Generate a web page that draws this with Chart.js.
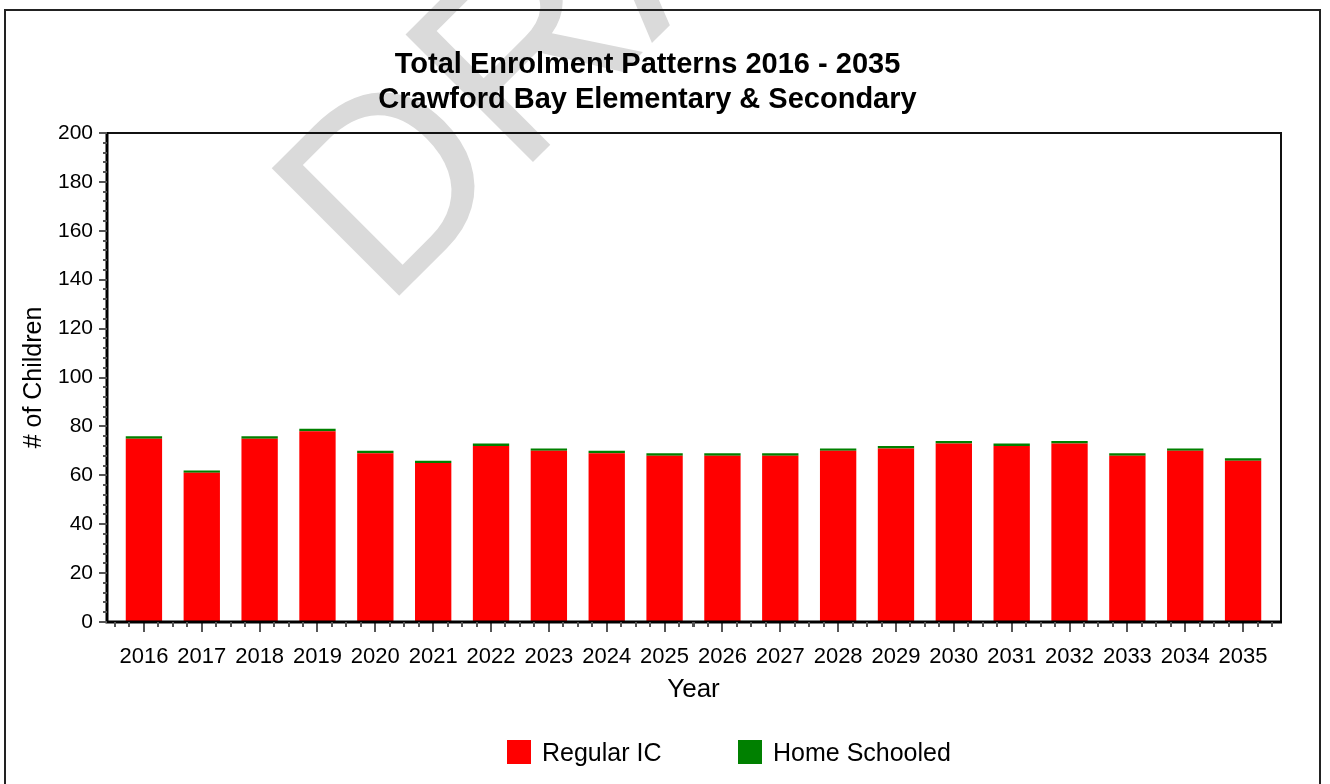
<!DOCTYPE html>
<html>
<head>
<meta charset="utf-8">
<title>Total Enrolment Patterns 2016 - 2035</title>
<script src="https://cdn.jsdelivr.net/npm/chart.js@4.4.1/dist/chart.umd.min.js"></script>
<style>
    html, body { margin: 0; padding: 0; background: #fff; overflow: hidden; }
    canvas { display: block; }
</style>
</head>
<body>
<canvas id="grafica" width="1330" height="784"></canvas>
<script>
// datos
const years = ['2016', '2017', '2018', '2019', '2020', '2021', '2022', '2023', '2024', '2025',
               '2026', '2027', '2028', '2029', '2030', '2031', '2032', '2033', '2034', '2035'];
const regularIC = [75, 61, 75, 78, 69, 65, 72, 70, 69, 68, 68, 68, 70, 71, 73, 72, 73, 68, 70, 66];
const homeSchooled = [1, 1, 1, 1, 1, 1, 1, 1, 1, 1, 1, 1, 1, 1, 1, 1, 1, 1, 1, 1];
const yMax = 200;
const yStep = 20;
const yMinorStep = 4;

const fuente = '"Liberation Sans", Arial, Helvetica, sans-serif';

document.addEventListener('DOMContentLoaded', () => {

    const ctx = document.getElementById('grafica').getContext('2d');

    // fondo, marca de agua y marco exterior
    const fondoPlugin = {
        id: 'fondo',
        beforeDraw(chart) {
            const c = chart.ctx;
            c.save();
            c.fillStyle = '#fff';
            c.fillRect(0, 0, chart.width, chart.height);
            c.translate(384, 311);
            c.rotate(-Math.PI / 4);
            c.font = '262px ' + fuente;
            c.fillStyle = '#dadada';
            c.textBaseline = 'alphabetic';
            c.fillText('DRAFT', 0, 0);
            c.restore();

            c.save();
            c.strokeStyle = '#222';
            c.lineWidth = 2;
            c.strokeRect(5, 10, 1315, 800);
            c.restore();
        }
    };

    // borde del area, ticks menores y leyenda
    const ejesPlugin = {
        id: 'ejes',
        afterDraw(chart) {
            const c = chart.ctx;
            const a = chart.chartArea;
            const x = chart.scales.x;
            const y = chart.scales.y;
            const izq = a.left - 8;
            const der = a.right + 9;

            c.save();
            c.strokeStyle = '#111';
            c.lineWidth = 2;
            c.strokeRect(izq, a.top, der - izq, a.bottom - a.top);
            c.strokeStyle = '#000';
            c.lineWidth = 3;
            c.beginPath();
            c.moveTo(izq, a.top - 1);
            c.lineTo(izq, a.bottom);
            c.lineTo(der + 1, a.bottom);
            c.stroke();

            c.strokeStyle = '#555';
            c.lineWidth = 2;
            c.beginPath();
            for (let v = 0; v <= yMax; v += yMinorStep) {
                const py = Math.round(y.getPixelForValue(v));
                const largo = v % yStep === 0 ? 8 : 4;
                c.moveTo(izq - largo, py);
                c.lineTo(izq, py);
            }
            const w = x.getPixelForValue(1) - x.getPixelForValue(0);
            years.forEach((_, i) => {
                const cx = x.getPixelForValue(i);
                [-0.75, -0.5, -0.25, 0.25, 0.5, 0.75].forEach(f => {
                    const px = Math.round(cx + f * w);
                    if (px < izq + 3 || px > der - 3) return;
                    c.moveTo(px, a.bottom);
                    c.lineTo(px, a.bottom + 5);
                });
            });
            c.stroke();

            // leyenda
            const cajas = [507, 738];
            c.font = '25px ' + fuente;
            c.textBaseline = 'middle';
            c.textAlign = 'left';
            chart.data.datasets.forEach((ds, i) => {
                c.fillStyle = ds.backgroundColor;
                c.fillRect(cajas[i], 740, 24, 24);
                c.fillStyle = '#000';
                c.fillText(ds.label, cajas[i] + 35, 754);
            });
            c.restore();
        }
    };

    new Chart(ctx, {
        type: 'bar',
        data: {
            labels: years,
            datasets: [{
                label: 'Regular IC',
                data: regularIC,
                backgroundColor: '#ff0000',
                barPercentage: 0.628,
                categoryPercentage: 1
            }, {
                label: 'Home Schooled',
                data: homeSchooled,
                backgroundColor: '#008000',
                barPercentage: 0.628,
                categoryPercentage: 1
            }]
        },
        options: {
            responsive: false,
            animation: false,
            layout: { padding: { left: 23, right: 58, top: 0, bottom: 79 } },
            plugins: {
                legend: { display: false },
                tooltip: { enabled: false },
                title: {
                    display: true,
                    text: ['Total Enrolment Patterns 2016 - 2035', 'Crawford Bay Elementary & Secondary'],
                    color: '#000',
                    font: { family: fuente, size: 29, weight: 'bold', lineHeight: 1.2 },
                    padding: { top: 48, bottom: 15.4 }
                }
            },
            scales: {
                x: {
                    stacked: true,
                    border: { display: false },
                    grid: {
                        display: true,
                        drawOnChartArea: false,
                        drawTicks: true,
                        tickLength: 10,
                        tickColor: '#555',
                        lineWidth: 2,
                        offset: false
                    },
                    ticks: {
                        color: '#000',
                        font: { family: fuente, size: 22 },
                        padding: 12,
                        maxRotation: 0,
                        autoSkip: false
                    },
                    title: {
                        display: true,
                        text: 'Year',
                        color: '#000',
                        font: { family: fuente, size: 26 },
                        padding: 0
                    },
                    afterFit(scale) { scale.height = 83; }
                },
                y: {
                    stacked: true,
                    min: 0,
                    max: yMax,
                    border: { display: false },
                    grid: { display: false, drawTicks: false },
                    ticks: {
                        stepSize: yStep,
                        color: '#000',
                        font: { family: fuente, size: 21 },
                        padding: 22
                    },
                    title: {
                        display: true,
                        text: '# of Children',
                        color: '#000',
                        font: { family: fuente, size: 25, lineHeight: 0.9 },
                        padding: 0
                    },
                    afterFit(scale) { scale.width = 92; }
                }
            }
        },
        plugins: [fondoPlugin, ejesPlugin]
    });

});
</script>
</body>
</html>
